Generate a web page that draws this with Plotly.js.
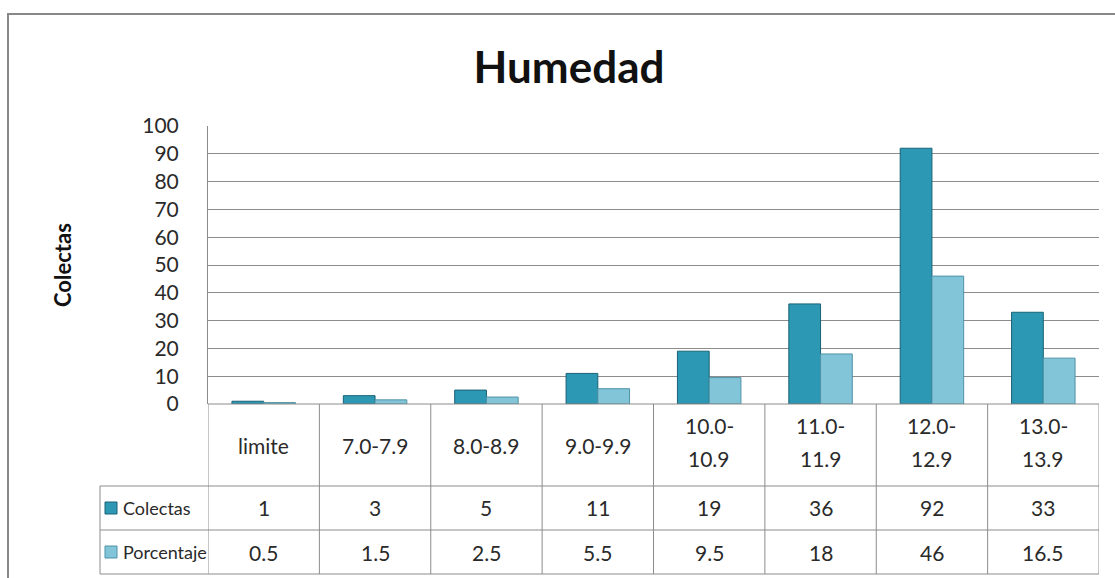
<!DOCTYPE html>
<html>
<head>
<meta charset="utf-8">
<script src="https://cdn.plot.ly/plotly-3.0.1.min.js"></script>
<style>html,body{margin:0;padding:0;background:#fff;}#chart{width:1115px;height:578px;}</style>
</head>
<body>
<div id="chart"></div>
<script>
// Data
const categories = ['limite','7.0-7.9','8.0-8.9','9.0-9.9','10.0-10.9','11.0-11.9','12.0-12.9','13.0-13.9'];
const categoryLabels = ['limite','7.0-7.9','8.0-8.9','9.0-9.9','10.0-<br>10.9','11.0-<br>11.9','12.0-<br>12.9','13.0-<br>13.9'];
const colectas = [1, 3, 5, 11, 19, 36, 92, 33];
const porcentaje = [0.5, 1.5, 2.5, 5.5, 9.5, 18, 46, 16.5];
const colectasLabels = ['1','3','5','11','19','36','92','33'];
const porcentajeLabels = ['0.5','1.5','2.5','5.5','9.5','18','46','16.5'];
const seriesNames = ['Colectas','Porcentaje'];

// geometry helpers (pixels -> paper)
const L = 208, R = 1099, T = 126, B = 404, W = 1115, H = 578;
const px = p => (p - L) / (R - L);
const py = p => (B - p) / (B - T);

const C1 = '#2c98b3', C1L = '#1a6276';
const C2 = '#82c4d8', C2L = '#4f93a8';
const FONT = 'Lato, "Liberation Sans", sans-serif';

const traces = [
  {type:'bar', x: categories, y: colectas, name: seriesNames[0],
   marker:{color: C1, line:{color: C1L, width:1}}, hoverinfo:'y'},
  {type:'bar', x: categories, y: porcentaje, name: seriesNames[1],
   marker:{color: C2, line:{color: C2L, width:1}}, hoverinfo:'y'}
];

const shapes = [];
const annotations = [];
const gridC = '#8c8c8c';
const lineStyle = {color: gridC, width: 1};

// outer frame
shapes.push({type:'rect', xref:'paper', yref:'paper', x0: px(8), x1: px(1130), y0: py(14), y1: py(600), line:{color:'#888', width:2}, fillcolor:'rgba(0,0,0,0)', layer:'below'});

// table geometry
const rowY = [404, 486, 530, 574];
const legendLeft = 100;
const n = categories.length;
shapes.push({type:'line', xref:'paper', yref:'paper', x0: px(L), x1: px(R), y0: py(rowY[0]), y1: py(rowY[0]), line: lineStyle});
for (let r = 1; r < rowY.length; r++) {
  shapes.push({type:'line', xref:'paper', yref:'paper', x0: px(legendLeft), x1: px(R), y0: py(rowY[r]), y1: py(rowY[r]), line: lineStyle});
}
for (let i = 0; i <= n; i++) {
  shapes.push({type:'line', xref:'x', yref:'paper', x0: i - 0.5, x1: i - 0.5, y0: py(rowY[0]), y1: py(rowY[3]), line: lineStyle});
}
shapes.push({type:'line', xref:'paper', yref:'paper', x0: px(legendLeft), x1: px(legendLeft), y0: py(rowY[1]), y1: py(rowY[3]), line: lineStyle});

// table text
const tf = {family: FONT, size: 21, color: '#2a2a2a'};
const ann = (xref, x, y, text, extra) => Object.assign({xref: xref, yref:'paper', x: x, y: py(y), text: text, showarrow:false, font: tf, xanchor:'center', yanchor:'middle'}, extra || {});
for (let i = 0; i < n; i++) {
  const parts = categoryLabels[i].split('<br>');
  if (parts.length === 1) {
    annotations.push(ann('x', i, 445, parts[0]));
  } else {
    annotations.push(ann('x', i, 425, parts[0]));
    annotations.push(ann('x', i, 458, parts[1]));
  }
  annotations.push(ann('x', i, (rowY[1]+rowY[2])/2, colectasLabels[i]));
  annotations.push(ann('x', i, (rowY[2]+rowY[3])/2, porcentajeLabels[i]));
}
// legend keys
const keyCols = [[C1, C1L],[C2, C2L]];
for (let s = 0; s < 2; s++) {
  const cy = (rowY[s+1] + rowY[s+2]) / 2;
  shapes.push({type:'rect', xref:'paper', yref:'paper', x0: px(105), x1: px(117), y0: py(cy - 6), y1: py(cy + 6), fillcolor: keyCols[s][0], line:{color: keyCols[s][1], width:1}});
  annotations.push(ann('paper', px(121), cy, seriesNames[s], {xanchor:'left', font:{family: FONT, size: 18, color:'#2a2a2a'}}));
}

// axis title
annotations.push(ann('paper', px(62), 265, '<b>Colectas</b>', {textangle:-90, font:{family: FONT, size: 22, color:'#111'}}));

const layout = {
  width: W, height: H,
  margin: {l: L, r: W - R, t: T, b: H - B, pad: 0},
  paper_bgcolor: '#fff', plot_bgcolor: '#fff',
  title: {text: '<b>Humedad</b>', font: {family: FONT, size: 44, color: '#111'}, xref:'container', yref:'container', x: 569/W, y: 1 - 68/H, xanchor:'center', yanchor:'middle'},
  showlegend: false,
  barmode: 'group', bargap: 0.43, bargroupgap: 0,
  xaxis: {type:'category', range:[-0.5, n - 0.5], showticklabels:false, showgrid:false, zeroline:false, showline:false, ticks:''},
  yaxis: {range:[0, 100], dtick: 10, tick0: 0, showgrid:true, gridcolor: gridC, gridwidth: 1, zeroline:false, showline:true, linecolor: gridC, linewidth:1, ticks:'', ticklen: 0,
          tickfont: {family: FONT, size: 21, color:'#2a2a2a'}, ticklabelstandoff: 24},
  shapes: shapes,
  annotations: annotations,
  font: {family: FONT}
};

Plotly.newPlot('chart', traces, layout, {displayModeBar:false, staticPlot:true});
</script>
</body>
</html>
